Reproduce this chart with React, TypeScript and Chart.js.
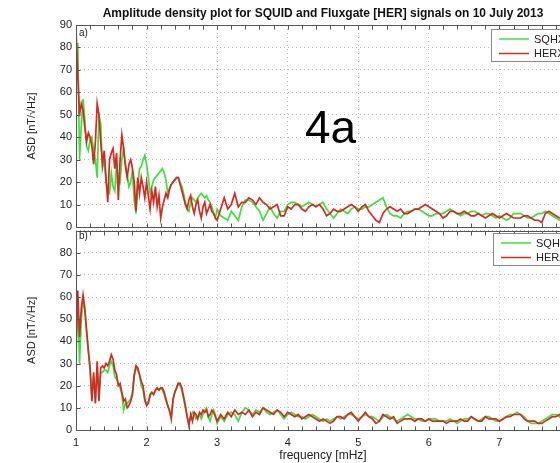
import React, { useEffect, useRef } from 'react';
import { Chart, registerables } from 'chart.js';

Chart.register(...registerables);

const FONT = '"Liberation Sans", Arial, Helvetica, sans-serif';

const chartTitle = 'Amplitude density plot for SQUID and Fluxgate [HER] signals on 10 July 2013';
const yAxisLabel = 'ASD [nT/\u221AHz]';
const xAxisLabel = 'frequency [mHz]';
const yTickValues = [0, 10, 20, 30, 40, 50, 60, 70, 80, 90];
const xTickValues = [1, 2, 3, 4, 5, 6, 7, 8];
const topLegend = ['SQHX', 'HERX'];
const bottomLegend = ['SQHZ', 'HERZ'];

// frequency [mHz]
const frequencies = [
  1, 1.025, 1.05, 1.075, 1.1, 1.125, 1.15, 1.175, 1.2, 1.225,
  1.25, 1.275, 1.3, 1.325, 1.35, 1.375, 1.4, 1.425, 1.45, 1.475,
  1.5, 1.525, 1.55, 1.575, 1.6, 1.625, 1.65, 1.675, 1.7, 1.725,
  1.75, 1.775, 1.8, 1.825, 1.85, 1.875, 1.9, 1.925, 1.95, 1.975,
  2, 2.025, 2.05, 2.075, 2.1, 2.125, 2.15, 2.175, 2.2, 2.225,
  2.25, 2.275, 2.3, 2.325, 2.35, 2.375, 2.4, 2.425, 2.45, 2.475,
  2.5, 2.525, 2.55, 2.575, 2.6, 2.625, 2.65, 2.675, 2.7, 2.725,
  2.75, 2.775, 2.8, 2.825, 2.85, 2.875, 2.9, 2.925, 2.95, 2.975,
  3,
  3.05, 3.1, 3.15, 3.2, 3.25, 3.3, 3.35, 3.4, 3.45, 3.5,
  3.55, 3.6, 3.65, 3.7, 3.75, 3.8, 3.85, 3.9, 3.95, 4,
  4.05, 4.1, 4.15, 4.2, 4.25, 4.3, 4.35, 4.4, 4.45, 4.5,
  4.55, 4.6, 4.65, 4.7, 4.75, 4.8, 4.85, 4.9, 4.95, 5,
  5.05, 5.1, 5.15, 5.2, 5.25, 5.3, 5.35, 5.4, 5.45, 5.5,
  5.55, 5.6, 5.65, 5.7, 5.75, 5.8, 5.85, 5.9, 5.95, 6,
  6.05, 6.1, 6.15, 6.2, 6.25, 6.3, 6.35, 6.4, 6.45, 6.5,
  6.55, 6.6, 6.65, 6.7, 6.75, 6.8, 6.85, 6.9, 6.95, 7,
  7.05, 7.1, 7.15, 7.2, 7.25, 7.3, 7.35, 7.4, 7.45, 7.5,
  7.55, 7.6, 7.65, 7.7, 7.75, 7.8, 7.85, 7.9, 7.95, 8,
];

const herx = [
  88, 68, 50, 55, 52, 44, 38, 42, 40, 36,
  28, 38, 55, 50, 38, 28, 34, 22, 11, 30,
  33, 35, 26, 33, 12, 30, 41, 35, 27, 22,
  28, 30, 26, 20, 7, 22, 15, 22, 18, 13,
  20, 14, 8, 16, 11, 18, 9, 14, 4, 9,
  12, 15, 13, 17, 19, 20, 21, 22, 22, 19,
  16, 13, 10, 8, 12, 14, 9, 6, 10, 12,
  7, 4, 9, 11, 6, 8, 10, 7, 6, 4,
  3,
  8, 13, 8, 10, 15, 9, 11, 11, 13, 12,
  10, 13, 11, 10, 8, 9, 10, 5, 5, 9,
  8, 10, 10, 8, 7, 9, 10, 9, 10, 8,
  5, 6, 8, 7, 7, 8, 9, 10, 9, 7,
  9, 10, 7, 5, 3, 2, 6, 8, 9, 8,
  7, 8, 6, 6, 7, 8, 8, 9, 10, 9,
  8, 7, 6, 4, 5, 7, 7, 6, 6, 7,
  6, 5, 5, 6, 5, 4, 5, 6, 5, 4,
  5, 6, 5, 4, 4, 4, 5, 5, 4, 3,
  3, 2, 6, 7, 6, 5, 4, 4, 5, 4,
];

const sqhx = [
  65, 82, 30, 45, 57, 48, 36, 34, 39, 40,
  34, 30, 22, 50, 46, 26, 30, 20, 16, 15,
  24, 18, 16, 28, 22, 20, 30, 35, 28, 24,
  18, 20, 25, 12, 6, 18, 26, 27, 30, 32,
  28, 22, 15, 18, 21, 22, 23, 24, 25, 26,
  24, 21, 15, 17, 19, 20, 21, 22, 22, 20,
  18, 15, 11, 8, 7, 11, 13, 12, 11, 13,
  14, 15, 14, 13, 14, 12, 11, 9, 6, 4,
  8,
  5, 4, 3, 7, 5, 3, 9, 12, 12, 11,
  9, 7, 3, 6, 9, 6, 4, 7, 7, 10,
  11, 11, 10, 9, 10, 11, 10, 9, 10, 11,
  8, 6, 4, 6, 8, 7, 6, 8, 9, 8,
  8, 9, 9, 10, 11, 12, 13, 9, 6, 5,
  5, 4, 6, 7, 7, 8, 8, 7, 6, 5,
  5, 6, 6, 6, 7, 8, 7, 6, 5, 6,
  6, 7, 7, 6, 5, 6, 6, 5, 4, 5,
  4, 3, 4, 6, 6, 6, 5, 4, 4, 5,
  6, 6, 7, 6, 5, 4, 3, 3, 4, 4,
];

const herz = [
  38, 63, 42, 55, 61, 55, 45, 36, 28, 13,
  26, 12, 31, 13, 28, 29, 28, 30, 29, 31,
  34, 32, 27, 25, 20, 21, 17, 13, 14, 10,
  11, 13, 16, 25, 29, 28, 25, 22, 20, 14,
  11, 12, 16, 17, 16, 18, 19, 18, 19, 19,
  17, 14, 11, 9, 5, 14, 17, 19, 21, 21,
  19, 15, 11, 6, 2, 7, 4, 8, 7, 5,
  8, 7, 9, 8, 9, 6, 7, 9, 8, 6,
  4,
  7, 5, 8, 6, 9, 7, 8, 7, 9, 6,
  8, 7, 10, 9, 8, 7, 9, 8, 6, 8,
  7, 6, 7, 5, 6, 7, 6, 5, 4, 5,
  4, 3, 4, 6, 6, 5, 7, 8, 6, 4,
  6, 8, 6, 5, 3, 4, 7, 6, 5, 6,
  3, 4, 5, 5, 5, 4, 5, 5, 4, 5,
  4, 4, 4, 4, 3, 4, 4, 4, 5, 4,
  4, 6, 5, 4, 4, 6, 5, 5, 5, 4,
  5, 6, 6, 7, 7, 7, 5, 4, 4, 4,
  3, 3, 4, 5, 6, 6, 7, 6, 5, 5,
];

const sqhz = [
  32, 60, 30, 50, 58, 54, 44, 35, 27, 15,
  24, 14, 28, 16, 26, 26, 27, 27, 26, 29,
  31, 29, 24, 23, 21, 19, 16, 9, 12, 12,
  13, 14, 17, 24, 28, 27, 25, 20, 18, 13,
  12, 13, 15, 17, 16, 18, 19, 18, 19, 18,
  16, 13, 11, 8, 6, 13, 17, 19, 21, 20,
  18, 14, 10, 6, 3, 6, 8, 7, 5, 6,
  7, 5, 7, 9, 10, 6, 4, 7, 9, 7,
  3,
  6, 4, 7, 8, 7, 4, 8, 10, 9, 7,
  9, 8, 10, 8, 7, 8, 9, 7, 5, 7,
  8, 7, 6, 6, 5, 6, 7, 6, 5, 4,
  5, 4, 5, 6, 5, 6, 7, 7, 6, 5,
  6, 7, 6, 6, 5, 4, 6, 7, 6, 5,
  4, 5, 6, 7, 6, 5, 5, 4, 4, 5,
  5, 5, 4, 4, 4, 5, 4, 3, 4, 5,
  5, 6, 5, 4, 5, 6, 6, 5, 4, 4,
  5, 6, 7, 7, 8, 7, 6, 4, 3, 3,
  3, 4, 5, 6, 7, 7, 6, 5, 5, 4,
];

const GREEN = '#3ee03e';
const RED = '#d42a22';
const GRID = '#b8b8b8';
const AXIS = '#555555';
const TEXT = '#222222';

const toPoints = (ys: number[]) => frequencies.map((f, i) => ({ x: f, y: ys[i] }));

const framePlugin = {
  id: 'frame',
  afterDraw(chart: any, _args: any, o: any) {
    const { ctx, chartArea: a } = chart;
    const xs = chart.scales.x;
    const ys = chart.scales.y;
    ctx.save();
    const L = Math.round(a.left) + 0.5;
    const R = Math.round(a.right) + 0.5;
    const T = Math.round(a.top) + 0.5;
    const B = Math.round(a.bottom) + 0.5;
    ctx.strokeStyle = AXIS;
    ctx.lineWidth = 1;
    ctx.setLineDash([]);
    ctx.strokeRect(L, T, R - L, B - T);
    ctx.beginPath();
    for (let v = xTickValues[0]; v <= xTickValues[xTickValues.length - 1] + 1e-6; v += 0.2) {
      const px = Math.round(xs.getPixelForValue(v)) + 0.5;
      ctx.moveTo(px, B);
      ctx.lineTo(px, B - 4);
      ctx.moveTo(px, T);
      ctx.lineTo(px, T + 4);
    }
    for (const v of yTickValues) {
      const py = Math.round(ys.getPixelForValue(v)) + 0.5;
      ctx.moveTo(L, py);
      ctx.lineTo(L + 4, py);
      ctx.moveTo(R, py);
      ctx.lineTo(R - 4, py);
    }
    ctx.stroke();

    // legend
    if (o.legend) {
      const lg = o.legend;
      const right = a.right - 3;
      ctx.fillStyle = '#ffffff';
      ctx.fillRect(lg.left, lg.top, right - lg.left, lg.height);
      ctx.strokeStyle = '#8a8a8a';
      ctx.strokeRect(lg.left + 0.5, lg.top + 0.5, right - lg.left, lg.height);
      ctx.font = `11px ${FONT}`;
      ctx.textBaseline = 'middle';
      ctx.textAlign = 'left';
      lg.items.forEach((it: any, i: number) => {
        const y = lg.top + 10 + i * 14.5;
        ctx.strokeStyle = it.color;
        ctx.lineWidth = 1.5;
        ctx.beginPath();
        ctx.moveTo(lg.left + 8, y);
        ctx.lineTo(lg.left + 38, y);
        ctx.stroke();
        ctx.fillStyle = TEXT;
        ctx.fillText(it.label, lg.left + 43, y + 0.5);
      });
    }

    // free texts
    for (const t of o.texts || []) {
      ctx.save();
      ctx.font = t.font;
      ctx.fillStyle = t.color || TEXT;
      ctx.textAlign = t.align || 'left';
      ctx.textBaseline = t.baseline || 'alphabetic';
      const x = t.x === 'center' ? (a.left + a.right) / 2 : t.x;
      const y = t.y === 'middle' ? (a.top + a.bottom) / 2 : t.y;
      ctx.translate(x, y);
      if (t.rotate) ctx.rotate(t.rotate);
      ctx.fillText(t.text, 0, 0);
      ctx.restore();
    }
    ctx.restore();
  },
};

function makeConfig(sq: number[], her: number[], labels: string[], bottom: boolean, texts: any[], legendPos: any) {
  return {
    type: 'line',
    data: {
      datasets: [
        { label: labels[1], data: toPoints(her), borderColor: RED, borderWidth: 1.7, pointRadius: 0, tension: 0, order: 0 },
        { label: labels[0], data: toPoints(sq), borderColor: GREEN, borderWidth: 1.7, pointRadius: 0, tension: 0, order: 1 },
      ],
    },
    options: {
      responsive: false,
      animation: false,
      events: [],
      layout: { padding: { top: bottom ? 7 : 25, left: 0, right: 30, bottom: 0 } },
      plugins: {
        legend: { display: false },
        tooltip: { enabled: false },
        title: { display: false },
        frame: {
          texts,
          legend: {
            left: legendPos.left,
            top: legendPos.top,
            height: legendPos.height,
            items: [
              { label: labels[0], color: GREEN },
              { label: labels[1], color: RED },
            ],
          },
        },
      },
      scales: {
        x: {
          type: 'linear',
          min: 1,
          max: 8,
          afterFit: (s: any) => { s.height = bottom ? 33 : 13; },
          afterBuildTicks: (s: any) => { s.ticks = xTickValues.map((v) => ({ value: v })); },
          ticks: {
            display: bottom,
            padding: 6,
            color: TEXT,
            font: { family: FONT, size: 11 },
            maxRotation: 0,
            autoSkip: false,
          },
          grid: { color: GRID, lineWidth: 1, drawTicks: false },
          border: { display: false, dash: [1, 3] },
          title: {
            display: bottom,
            text: xAxisLabel,
            color: TEXT,
            font: { family: FONT, size: 12 },
            padding: { top: 0, bottom: 0 },
          },
        },
        y: {
          min: 0,
          max: 90,
          afterFit: (s: any) => { s.width = 76; },
          afterBuildTicks: (s: any) => { s.ticks = yTickValues.map((v) => ({ value: v })); },
          ticks: {
            padding: 4,
            color: TEXT,
            font: { family: FONT, size: 11 },
            autoSkip: false,
            callback: (v: any) => (bottom && v === 90 ? '' : String(v)),
          },
          grid: { color: GRID, lineWidth: 1, drawTicks: false },
          border: { display: false, dash: [1, 3] },
        },
      },
    },
    plugins: [framePlugin],
  } as any;
}

export default function App() {
  const topRef = useRef<HTMLCanvasElement | null>(null);
  const botRef = useRef<HTMLCanvasElement | null>(null);

  useEffect(() => {
    document.documentElement.style.overflow = 'hidden';
    document.body.style.overflow = 'hidden';
    const topTexts = [
      { text: chartTitle, x: 'center', y: 17, font: `bold 12px ${FONT}`, align: 'center', color: '#111' },
      { text: 'a)', x: 79, y: 36, font: `10px ${FONT}`, color: '#222' },
      { text: '4a', x: 305, y: 143, font: `46px ${FONT}`, color: '#000' },
      { text: yAxisLabel, x: 32, y: 'middle', font: `11px ${FONT}`, align: 'center', baseline: 'middle', rotate: -Math.PI / 2 },
    ];
    const botTexts = [
      { text: 'b)', x: 79, y: 239 - 220, font: `10px ${FONT}`, color: '#222' },
      { text: yAxisLabel, x: 32, y: 'middle', font: `11px ${FONT}`, align: 'center', baseline: 'middle', rotate: -Math.PI / 2 },
    ];
    const c1 = new Chart(topRef.current as HTMLCanvasElement, makeConfig(sqhx, herx, topLegend, false, topTexts, { left: 491, top: 29, height: 32 }));
    const c2 = new Chart(botRef.current as HTMLCanvasElement, makeConfig(sqhz, herz, bottomLegend, true, botTexts, { left: 493, top: 233 - 220, height: 32 }));
    return () => {
      c1.destroy();
      c2.destroy();
    };
  }, []);

  return (
    <div style={{ position: 'fixed', left: 0, top: 0, width: 600, height: 463, background: '#fff', overflow: 'hidden' }}>
      <canvas ref={topRef} width={600} height={240} style={{ position: 'absolute', left: 0, top: 0 }} />
      <canvas ref={botRef} width={600} height={243} style={{ position: 'absolute', left: 0, top: 220 }} />
    </div>
  );
}
